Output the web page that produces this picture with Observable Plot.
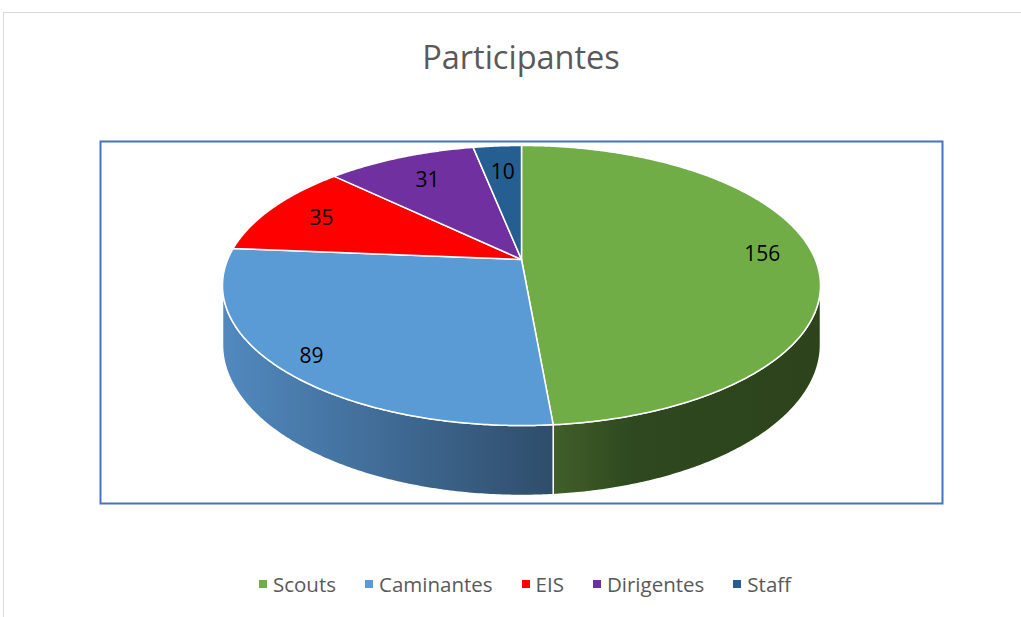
<!DOCTYPE html>
<html><head><meta charset="utf-8">
<script src="https://cdn.jsdelivr.net/npm/d3@7"></script>
<script src="https://cdn.jsdelivr.net/npm/@observablehq/plot@0.6"></script>
<style>
body{margin:0;background:#fff;font-family:"Open Sans",sans-serif;}
#chart{position:relative;width:1021px;height:617px;overflow:hidden;background:#fff;}
#border{position:absolute;left:3px;top:12px;width:1040px;height:700px;border:1px solid #d9d9d9;}
#title{position:absolute;left:0;width:1042px;top:35px;text-align:center;font-size:32.5px;color:#595959;line-height:44px;}
#plot{position:absolute;left:0;top:100px;}
#legend{position:absolute;top:570px;left:0;width:1050px;display:flex;justify-content:center;font-size:20.5px;color:#595959;line-height:28px;}
.item{display:flex;align-items:center;margin:0 14.5px;}
.sw{width:8px;height:8px;margin-right:6px;}
</style>
</head><body>
<div id="chart">
  <div id="border"></div>
  <div id="title">Participantes</div>
  <div id="plot"></div>
  <div id="legend"></div>
</div>
<script>
// ---- data ----
const categories = ["Scouts", "Caminantes", "EIS", "Dirigentes", "Staff"];
const values = [156, 89, 35, 31, 10];
const colors = ["#70AD47", "#5B9BD5", "#FF0000", "#7030A0", "#255E91"];
const chartTitle = "Participantes";

// ---- styling / projection constants ----
const persp = 0.1857;      // perspective foreshortening
const thick = 0.4216;      // pie thickness (in y units)
const sideGrad = {
  Scouts: [["0", "#405f29"], ["0.3", "#2f481f"], ["1", "#2c431c"]],
  Caminantes: [["0", "#5189bf"], ["1", "#2f4d6b"]]
};

document.getElementById("title").textContent = chartTitle;

const total = d3.sum(values);
let acc = 0;
const slices = categories.map((c, i) => {
  const a0 = acc / total * 360;
  acc += values[i];
  const a1 = acc / total * 360;
  return {cat: c, value: values[i], a0, a1};
});

function proj(deg, r, z) {
  const t = deg * Math.PI / 180;
  const u = r * Math.sin(t), v = r * Math.cos(t);
  const w = 1 + persp * v;
  return {X: u / w, Y: (v - z) / w};
}
function arc(a0, a1, z) {
  const n = Math.max(2, Math.ceil(Math.abs(a1 - a0) / 0.5));
  const pts = [];
  for (let j = 0; j <= n; j++) pts.push(proj(a0 + (a1 - a0) * j / n, 1, z));
  return pts;
}

// top faces
const topPts = [];
slices.forEach(s => {
  const c = proj(0, 0, 0);
  topPts.push({...c, cat: s.cat});
  arc(s.a0, s.a1, 0).forEach(p => topPts.push({...p, cat: s.cat}));
});

// visible front side range
const sil = Math.acos(-persp) * 180 / Math.PI;
const visLo = sil, visHi = 360 - sil;
const sideMarks = [];
slices.forEach(s => {
  const lo = Math.max(s.a0, visLo), hi = Math.min(s.a1, visHi);
  if (hi <= lo) return;
  const pts = arc(lo, hi, 0).concat(arc(hi, lo, thick)).map(p => ({...p, cat: s.cat}));
  sideMarks.push(Plot.line(pts, {
    x: "X", y: "Y", curve: "linear-closed",
    fill: `url(#side-${s.cat})`, stroke: "white", strokeWidth: 1.5
  }));
});

// labels: inside the slice, closer to the rim on the near side
const labels = slices.map(s => {
  const mid = (s.a0 + s.a1) / 2;
  const r = 0.83 - 0.09 * Math.cos(mid * Math.PI / 180);
  const p = proj(mid, r, 0);
  return {...p, text: String(s.value)};
});

const svg = Plot.plot({
  width: 1021, height: 440,
  marginLeft: 100, marginRight: 79, marginTop: 41, marginBottom: 37,
  x: {domain: [-1.433, 1.433], axis: null},
  y: {domain: [-1.805, 0.873], axis: null},
  color: {domain: categories, range: colors},
  style: {background: "transparent", overflow: "visible"},
  marks: [
    ...sideMarks,
    Plot.line(topPts, {x: "X", y: "Y", z: "cat", fill: "cat", curve: "linear-closed",
      stroke: "white", strokeWidth: 1.5, strokeLinejoin: "round"}),
    Plot.text(labels, {x: "X", y: "Y", text: "text", fontSize: 21, fill: "black",
      fontFamily: "Open Sans, sans-serif"}),
    Plot.frame({stroke: "#4472C4", strokeWidth: 2})
  ]
});

const defs = d3.select(svg).insert("defs", ":first-child");
Object.entries(sideGrad).forEach(([k, stops]) => {
  const g = defs.append("linearGradient").attr("id", "side-" + k)
    .attr("x1", 0).attr("x2", 1).attr("y1", 0).attr("y2", 0);
  stops.forEach(([o, c]) => g.append("stop").attr("offset", o).attr("stop-color", c));
});

document.getElementById("plot").appendChild(svg);

const leg = d3.select("#legend");
categories.forEach((c, i) => {
  const it = leg.append("div").attr("class", "item");
  it.append("div").attr("class", "sw").style("background", colors[i]);
  it.append("span").text(c);
});
</script>
</body></html>
